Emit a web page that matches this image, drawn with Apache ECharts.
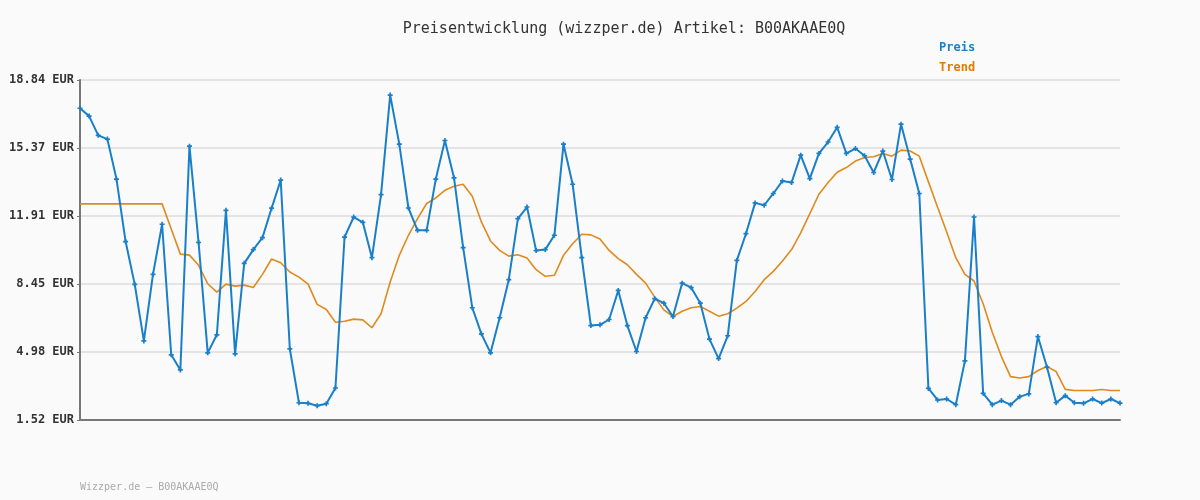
<!DOCTYPE html>
<html><head><meta charset="utf-8">
<script src="https://cdn.jsdelivr.net/npm/echarts@6/dist/echarts.min.js"></script>
<style>html,body{margin:0;padding:0;background:#fafafa}#c{width:1200px;height:500px}</style>
</head><body><div id="c"></div>
<script>
const preis = [17.40,17.00,16.02,15.83,13.79,10.61,8.43,5.55,8.94,11.49,
4.84,4.07,15.47,10.56,4.94,5.86,12.20,4.89,9.50,10.20,
10.81,12.31,13.74,5.14,2.40,2.37,2.25,2.35,3.15,10.84,
11.86,11.59,9.79,13.00,18.07,15.57,12.32,11.18,11.18,13.79,
15.76,13.85,10.30,7.24,5.91,4.94,6.73,8.67,11.78,12.37,
10.15,10.20,10.93,15.57,13.53,9.79,6.33,6.37,6.64,8.12,
6.33,5.01,6.73,7.70,7.47,6.79,8.49,8.26,7.47,5.64,
4.65,5.81,9.65,11.01,12.58,12.46,13.06,13.70,13.62,15.01,
13.82,15.10,15.68,16.43,15.10,15.35,14.98,14.13,15.22,13.77,
16.59,14.81,13.06,3.13,2.54,2.59,2.30,4.53,11.86,2.88,
2.30,2.51,2.30,2.71,2.85,5.77,4.21,2.40,2.76,2.40,
2.37,2.59,2.38,2.59,2.38];
const trend = [12.53,12.53,12.53,12.53,12.53,12.53,12.53,12.53,12.53,12.53,
11.25,9.97,9.92,9.40,8.46,8.03,8.44,8.34,8.39,8.27,
8.94,9.72,9.53,9.06,8.80,8.44,7.41,7.15,6.50,6.55,
6.66,6.62,6.22,6.93,8.55,9.91,10.93,11.78,12.55,12.83,
13.22,13.43,13.53,12.92,11.61,10.64,10.16,9.87,9.94,9.77,
9.18,8.84,8.89,9.91,10.50,10.98,10.95,10.74,10.16,9.74,
9.43,8.94,8.49,7.78,7.13,6.79,7.06,7.24,7.30,7.06,
6.81,6.93,7.22,7.56,8.07,8.67,9.09,9.62,10.20,11.05,
12.03,13.02,13.62,14.14,14.38,14.71,14.89,14.93,15.10,14.96,
15.27,15.22,14.96,13.65,12.37,11.10,9.79,8.94,8.60,7.44,
5.99,4.75,3.73,3.66,3.73,4.04,4.24,3.99,3.08,3.02,
3.02,3.02,3.07,3.02,3.02];
const categories = preis.map((_, i) => String(i + 1));
const yTickLabels = ['1.52 EUR','4.98 EUR','8.45 EUR','11.91 EUR','15.37 EUR','18.84 EUR'];
const yMin = 1.52, yMax = 18.84, yInterval = (18.84 - 1.52) / 5;
const font = '"DejaVu Sans Mono", monospace';

const chart = echarts.init(document.getElementById('c'));
chart.setOption({
  backgroundColor: '#fafafa',
  animation: false,
  title: {
    text: 'Preisentwicklung (wizzper.de) Artikel: B00AKAAE0Q',
    left: 619, top: 17, textAlign: 'center',
    textStyle: { fontFamily: font, fontSize: 15, fontWeight: 'normal', color: '#333' }
  },
  legend: {
    orient: 'vertical', left: 934, top: 37, itemGap: 8,
    itemWidth: 0, itemHeight: 0, icon: 'rect',
    data: [
      { name: 'Preis', textStyle: { color: '#1a7fc9' } },
      { name: 'Trend', textStyle: { color: '#e07b00' } }
    ],
    textStyle: { fontFamily: font, fontSize: 12, fontWeight: 'bold', padding: [0, 0, 0, -5] }
  },
  graphic: [{
    type: 'text', left: 80, top: 482,
    style: { text: 'Wizzper.de \u2013 B00AKAAE0Q', fill: '#aaaaaa', font: '10px ' + font }
  }],
  grid: { left: 80, right: 80, top: 80, bottom: 80 },
  xAxis: {
    type: 'category', data: categories, boundaryGap: false,
    axisLine: { lineStyle: { color: '#777', width: 2 } },
    axisTick: { show: false }, axisLabel: { show: false }, splitLine: { show: false }
  },
  yAxis: {
    type: 'value', min: yMin, max: yMax, interval: yInterval,
    axisLine: { show: true, lineStyle: { color: '#777', width: 2 } },
    axisTick: { show: true, length: 3, lineStyle: { color: '#777' } },
    axisLabel: {
      fontFamily: font, fontSize: 12, fontWeight: 'bold', color: '#333', margin: 6,
      formatter: v => yTickLabels[Math.round((v - yMin) / yInterval)] || ''
    },
    splitLine: { lineStyle: { color: '#e4e4e4', width: 2 } }
  },
  series: [
    {
      name: 'Preis', type: 'line', data: preis,
      symbol: 'path://M2,0h2v2h2v2h-2v2h-2v-2h-2v-2h2z', symbolSize: 5, showSymbol: true,
      lineStyle: { color: '#1a7fc9', width: 2 },
      itemStyle: { color: '#1a7fc9' }, z: 3
    },
    {
      name: 'Trend', type: 'line', data: trend, symbol: 'none',
      lineStyle: { color: '#e08a1e', width: 1.6 },
      itemStyle: { color: '#e08a1e' }, z: 2
    }
  ]
});
</script></body></html>
